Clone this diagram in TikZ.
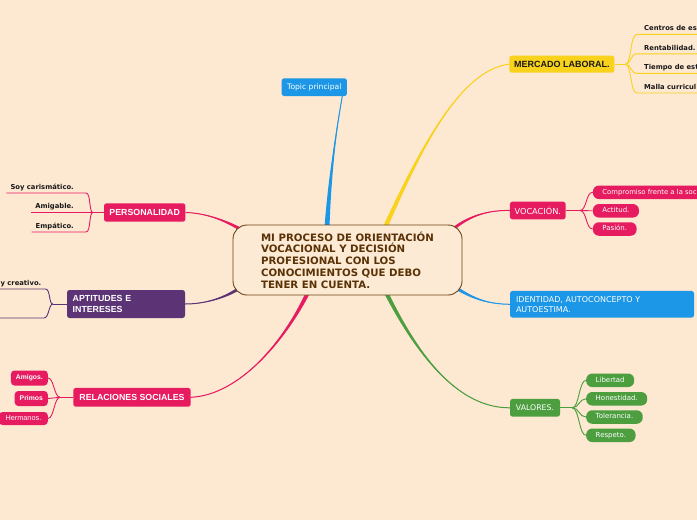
\documentclass[tikz,border=0pt]{standalone}
\usepackage{fontspec}
\setmainfont{DejaVu Sans}
\newfontfamily\arialf{Liberation Sans}
\newfontfamily\dejav{DejaVu Sans}
\usetikzlibrary{calc}
\pgfdeclarelayer{bg}
\pgfsetlayers{bg,main}
\definecolor{bgc}{RGB}{253,232,209}
\definecolor{cfill}{RGB}{253,234,213}
\definecolor{cblue}{RGB}{28,150,230}
\definecolor{cyel}{RGB}{249,210,28}
\definecolor{cred}{RGB}{230,27,96}
\definecolor{cgrn}{RGB}{76,158,63}
\definecolor{cpur}{RGB}{92,52,117}
\definecolor{cbrn}{RGB}{90,50,5}
\definecolor{cedge}{RGB}{107,68,20}
\definecolor{ctxt}{RGB}{25,25,25}

\newcommand\taperx[6]{%
 \fill[#1] ($(#2)+(-#6,0)$) .. controls ($(#3)+(-#6/2,0)$) and (#4) .. (#5) .. controls (#4) and ($(#3)+(#6/2,0)$) .. ($(#2)+(#6,0)$) -- cycle;
 \draw[#1,line width=1pt] (#2) .. controls (#3) and (#4) .. (#5);}
\newcommand\tapery[6]{%
 \fill[#1] ($(#2)+(0,-#6)$) .. controls ($(#3)+(0,-#6/2)$) and (#4) .. (#5) .. controls (#4) and ($(#3)+(0,#6/2)$) .. ($(#2)+(0,#6)$) -- cycle;
 \draw[#1,line width=1pt] (#2) .. controls (#3) and (#4) .. (#5);}

\begin{document}
\begin{tikzpicture}[x=1pt,y=-1pt,
 box/.style={rounded corners=2.5pt, inner sep=0pt, text=white},
 pillv/.style={rounded corners=6pt, inner xsep=9.5pt, inner ysep=0pt, minimum height=13.5pt, text=white, font=\dejav\fontsize{7}{8}\selectfont, text height=5.2pt, text depth=1.4pt, anchor=west},
 pillr/.style={rounded corners=3.5pt, fill=cred, inner xsep=5pt, inner ysep=0pt, minimum height=15pt, text=white, anchor=east, text height=5pt, text depth=1.5pt},
 ulnode/.style={inner xsep=4pt, inner ysep=3.5pt, text depth=0pt, font=\dejav\bfseries\fontsize{6.8}{8}\selectfont, text=ctxt},
 twig/.style={line width=0.9pt},
]
\useasboundingbox (0,0) rectangle (697,520);
\begin{pgfonlayer}{bg}
\fill[bgc] (0,0) rectangle (697,520);
\end{pgfonlayer}

% central node
\node[draw=cedge, line width=0.9pt, fill=cfill, rounded corners=14pt, minimum width=229pt, minimum height=70pt, inner sep=0pt, align=left, text=cbrn, font=\dejav\bfseries\fontsize{10.2}{11.8}\selectfont] (c) at (347.5,260) {MI PROCESO DE ORIENTACIÓN\\VOCACIONAL Y DECISIÓN\\PROFESIONAL CON LOS\\CONOCIMIENTOS QUE DEBO\\TENER EN CUENTA.};

% main topics
\node[box, fill=cblue, minimum width=65.3pt, minimum height=17.7pt, font=\dejav\fontsize{7.6}{8}\selectfont] (topic) at (314.3,87.2) {Topic principal};
\node[box, fill=cyel, text=ctxt, minimum width=105pt, minimum height=17pt, font=\arialf\bfseries\fontsize{9}{10}\selectfont] (merc) at (561.8,64.2) {MERCADO LABORAL.};
\node[box, fill=cred, minimum width=55.7pt, minimum height=17.6pt, font=\dejav\fontsize{8.2}{9}\selectfont] (voc) at (537.8,210.5) {VOCACIÓN.};
\node[box, fill=cblue, text width=172pt, inner xsep=6pt, minimum height=26.7pt, align=left, font=\dejav\fontsize{8}{10}\selectfont] (iden) at (602,304.3) {IDENTIDAD, AUTOCONCEPTO Y\\AUTOESTIMA.};
\node[box, fill=cgrn, minimum width=50pt, minimum height=17.7pt, font=\dejav\fontsize{7.8}{9}\selectfont] (val) at (535,407.8) {VALORES.};
\node[box, fill=cred, minimum width=81.3pt, minimum height=18.4pt, font=\arialf\bfseries\fontsize{8.8}{10}\selectfont] (pers) at (144.7,212.5) {PERSONALIDAD};
\node[box, fill=cpur, text width=106.6pt, inner xsep=5.7pt, minimum height=28pt, align=left, font=\arialf\bfseries\fontsize{8.8}{10.7}\selectfont] (apt) at (126,304) {APTITUDES E\\INTERESES};
\node[box, fill=cred, minimum width=117.4pt, minimum height=18.7pt, font=\arialf\bfseries\fontsize{8.8}{10}\selectfont] (rel) at (132,397.3) {RELACIONES SOCIALES};

% mercado children
\node[ulnode, anchor=south west, inner xsep=7pt] (m1) at (637,34.3) {Centros de es};
\node[ulnode, anchor=south west, inner xsep=7pt] (m2) at (637,53.8) {Rentabilidad.};
\node[ulnode, anchor=south west, inner xsep=7pt] (m3) at (637,73.3) {Tiempo de est};
\node[ulnode, anchor=south west, inner xsep=7pt] (m4) at (637,93) {Malla curricul};

% vocacion children
\node[pillv, fill=cred, font=\dejav\fontsize{6.85}{8}\selectfont] (v1) at (592.7,192.3) {Compromiso frente a la soc};
\node[pillv, fill=cred] (v2) at (592.7,210.8) {Actitud.};
\node[pillv, fill=cred] (v3) at (592.7,229) {Pasión.};

% valores children
\node[pillv, fill=cgrn] (g1) at (586,380.3) {Libertad};
\node[pillv, fill=cgrn] (g2) at (586,398.8) {Honestidad.};
\node[pillv, fill=cgrn] (g3) at (586,417) {Tolerancia.};
\node[pillv, fill=cgrn] (g4) at (586,435.3) {Respeto.};

% personalidad children
\node[ulnode, anchor=south east] (p1) at (78,193) {Soy carismático.};
\node[ulnode, anchor=south east] (p2) at (78,212.5) {Amigable.};
\node[ulnode, anchor=south east] (p3) at (78,232) {Empático.};

% aptitudes children
\node[ulnode, anchor=south west] (a1) at (-3.6,289) {y creativo.};
\coordinate (a2) at (44,318);
\coordinate (a2l) at (0,318);

% relaciones children
\node[pillr, font=\arialf\bfseries\fontsize{6.8}{8}\selectfont] (r1) at (48,378) {Amigos.};
\node[pillr, font=\arialf\bfseries\fontsize{6.8}{8}\selectfont] (r2) at (48,398.5) {Primos};
\node[pillr, font=\arialf\fontsize{7.3}{8}\selectfont, minimum height=13pt, inner xsep=6.5pt] (r3) at (48,418.5) {Hermanos.};

% anchor points on the central node
\coordinate (aB) at ($(c.north)+(-20.5,3)$);
\coordinate (aY) at ($(c.north)+(37.5,3)$);
\coordinate (aV) at ($(c.north east)+(-10,5)$);
\coordinate (aI) at ($(c.south east)+(-7,-8)$);
\coordinate (aG) at ($(c.south)+(38.5,-3)$);
\coordinate (aR) at ($(c.south)+(-39.5,-3)$);
\coordinate (aP) at ($(c.north west)+(10,6)$);
\coordinate (aA) at ($(c.south west)+(8,-8)$);
\coordinate (eB) at ($(topic.south)+(28,0)$);

% branch points
\coordinate (mbr) at ($(merc.east)+(11,0)$);
\coordinate (vbr) at ($(voc.east)+(14,0)$);
\coordinate (gbr) at ($(val.east)+(12,0)$);
\coordinate (pbr) at ($(pers.west)+(-11,0)$);
\coordinate (abr) at ($(apt.west)+(-14,0)$);
\coordinate (rbr) at ($(rel.west)+(-13,0)$);

\begin{pgfonlayer}{bg}
\taperx{cblue}{aB}{330,170}{338,120}{eB}{2.5}
\taperx{cyel}{aY}{420,150}{460,70}{merc.west}{2.5}
\tapery{cred}{aV}{470,215}{490,210}{voc.west}{2}
\tapery{cblue}{aI}{475,300}{490,304}{iden.west}{2}
\taperx{cgrn}{aG}{420,360}{460,408}{val.west}{2.3}
\taperx{cred}{aR}{285,340}{240,395}{rel.east}{2.3}
\tapery{cred}{aP}{225,220}{205,213}{pers.east}{2}
\tapery{cpur}{aA}{225,298}{205,304}{apt.east}{2}

% mercado twigs
\draw[cyel,twig] (merc.east) -- (mbr);
\foreach \n in {m1,m2,m3,m4}
  \draw[cyel,twig] (mbr) .. controls +(6,0) and +(-7,0) .. (\n.south west) -- (\n.south east);
% vocacion twigs
\draw[cred,twig] (voc.east) -- (vbr);
\foreach \n in {v1,v2,v3}
  \draw[cred,twig] (vbr) .. controls +(7,0) and +(-7,0) .. (\n.west);
% valores twigs
\draw[cgrn,twig] (val.east) -- (gbr);
\foreach \n in {g1,g2,g3,g4}
  \draw[cgrn,twig] (gbr) .. controls +(7,0) and +(-7,0) .. (\n.west);
% personalidad twigs
\draw[cred,twig] (pers.west) -- (pbr);
\foreach \n in {p1,p2,p3}
  \draw[cred,twig] (\n.south west) -- (\n.south east) -- ++(8,0) .. controls +(5,0) and +(-4,0) .. (pbr);
% aptitudes twigs
\draw[cpur,twig] (apt.west) -- (abr);
\draw[cpur,twig] (a1.south west) -- (a1.south east) .. controls +(5,0) and +(-4,0) .. (abr);
\draw[cpur,twig] (a2l) -- (a2) .. controls +(5,0) and +(-4,0) .. (abr);
% relaciones twigs
\draw[cred,twig] (rel.west) -- (rbr);
\foreach \n in {r1,r2,r3}
  \draw[cred,twig] (rbr) .. controls +(-6,0) and +(6,0) .. (\n.east);
\end{pgfonlayer}
\end{tikzpicture}
\end{document}
